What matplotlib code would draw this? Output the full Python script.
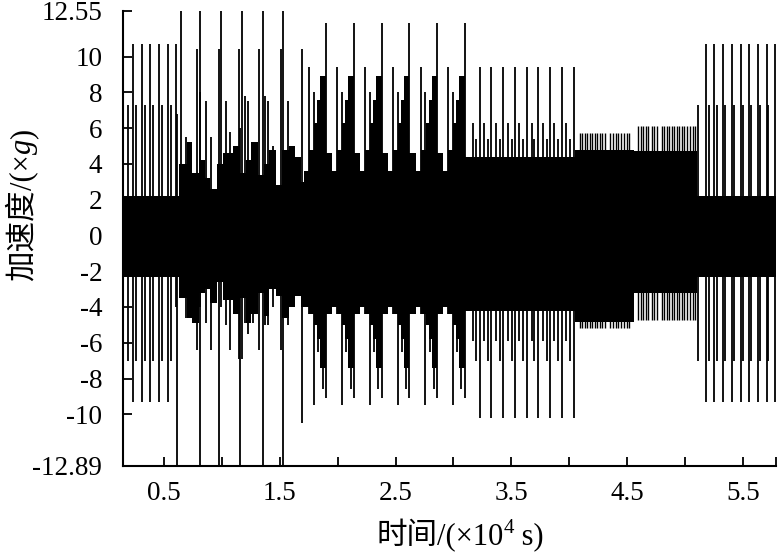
import numpy as np
import matplotlib
matplotlib.use("Agg")
from matplotlib import pyplot as plt

plt.rcParams['font.family'] = ['Liberation Serif', 'Noto Sans CJK SC']
plt.rcParams['axes.unicode_minus'] = False

# dense background band (step, value holds until next x), x in 1e4 s, acc in g
band_x = [0.146, 0.630, 0.700, 0.742, 0.800, 0.850, 0.900, 0.960, 1.010, 1.100,
          1.160, 1.210, 1.250, 1.310, 1.360, 1.410, 1.470, 1.520, 1.580, 1.630, 1.680,
          1.712, 1.755, 1.798, 1.824, 1.850, 1.899,
          1.954, 1.997, 2.040, 2.066, 2.092, 2.141,
          2.193, 2.236, 2.279, 2.305, 2.331, 2.380,
          2.437, 2.480, 2.523, 2.549, 2.575, 2.618,
          2.674, 2.717, 2.760, 2.786, 2.812, 2.855,
          2.912, 2.955, 2.998, 3.024, 3.050, 3.099,
          4.050, 4.560, 5.100, 5.785]
band_hi = [2.2, 4.0, 5.2, 3.5, 4.2, 3.2, 2.6, 4.0, 4.6, 5.0,
           3.5, 4.2, 5.2, 3.4, 4.0, 4.8, 2.8, 4.8, 5.0, 4.4, 3.0,
           3.6, 4.8, 6.3, 7.6, 8.9, 4.6,
           3.6, 4.8, 6.3, 7.6, 8.9, 4.6,
           3.6, 4.8, 6.3, 7.6, 8.9, 4.6,
           3.6, 4.8, 6.3, 7.6, 8.9, 4.6,
           3.6, 4.8, 6.3, 7.6, 8.9, 4.6,
           3.6, 4.8, 6.3, 7.6, 8.9, 4.4,
           4.8, 4.7, 2.2, 2.2]
band_lo = [-2.3, -3.5, -4.6, -4.9, -3.2, -3.0, -3.8, -2.6, -3.6, -4.4,
           -3.5, -4.9, -4.4, -3.2, -4.5, -3.0, -3.4, -4.6, -4.0, -3.4, -4.0,
           -4.0, -4.4, -5.0, -5.8, -7.4, -4.4,
           -4.0, -4.4, -5.0, -5.8, -7.4, -4.4,
           -4.0, -4.4, -5.0, -5.8, -7.4, -4.4,
           -4.0, -4.4, -5.0, -5.8, -7.4, -4.4,
           -4.0, -4.4, -5.0, -5.8, -7.4, -4.4,
           -4.0, -4.4, -5.0, -5.8, -7.4, -4.2,
           -4.85, -3.2, -2.3, -2.3]

# single load cycles standing out of the band
spike_x = [0.185, 0.232, 0.258, 0.314, 0.336, 0.375, 0.405, 0.457, 0.483, 0.535,
           0.561, 0.604, 0.615, 0.643, 0.690, 0.788, 0.811, 0.815, 0.863, 0.910,
           0.979, 0.992, 1.035, 1.070, 1.152, 1.156, 1.178, 1.200, 1.228, 1.269,
           1.323, 1.352, 1.372, 1.401, 1.441, 1.510, 1.530, 1.573, 1.623, 1.689,
           1.755, 1.796, 1.833, 1.869, 1.899,
           1.997, 2.038, 2.075, 2.111, 2.141,
           2.236, 2.277, 2.314, 2.350, 2.380,
           2.480, 2.521, 2.558, 2.594, 2.618,
           2.717, 2.758, 2.795, 2.831, 2.855,
           2.955, 2.996, 3.033, 3.069, 3.099,
           3.229, 3.328, 3.427, 3.531, 3.632, 3.732, 3.833, 3.934, 4.040,
           3.166, 3.266, 3.367, 3.468, 3.568, 3.675, 3.770, 3.868, 3.972,
           3.195, 3.299, 3.402, 3.503, 3.603, 3.696, 3.805, 3.905, 4.006,
           5.180, 5.253, 5.327, 5.404, 5.482, 5.554, 5.627, 5.710, 5.776,
           5.115, 5.206, 5.272, 5.348, 5.421, 5.499, 5.574, 5.650, 5.719]
spike_hi = [7.3, 10.7, 7.3, 10.7, 7.3, 10.7, 7.3, 10.7, 7.3, 10.7,
            7.3, 10.7, 6.8, 12.55, 5.5, 10.4, 8.0, 12.55, 7.5, 5.5,
            10.4, 12.55, 7.5, 5.8, 10.4, 6.0, 12.55, 7.8, 7.5, 5.0,
            10.4, 12.55, 7.8, 7.5, 5.0, 10.4, 12.55, 7.5, 5.0, 10.4,
            9.4, 8.0, 6.5, 8.9, 11.9,
            9.4, 8.0, 6.5, 8.9, 11.9,
            9.4, 8.0, 6.5, 8.9, 11.9,
            9.4, 8.0, 6.5, 8.9, 11.9,
            9.4, 8.0, 6.5, 8.9, 11.9,
            9.4, 8.0, 6.5, 8.9, 11.9,
            9.4, 9.4, 9.4, 9.4, 9.4, 9.4, 9.4, 9.4, 9.4,
            6.3, 6.3, 6.3, 6.3, 6.3, 6.3, 6.3, 6.3, 6.3,
            5.4, 5.4, 5.4, 5.4, 5.4, 5.4, 5.4, 5.4, 5.4,
            10.7, 10.7, 10.7, 10.7, 10.7, 10.7, 10.7, 10.7, 10.7,
            7.3, 7.3, 7.3, 7.3, 7.3, 7.3, 7.3, 7.3, 7.3]
spike_lo = [-7.0, -9.3, -7.0, -9.3, -7.0, -9.3, -7.0, -9.3, -7.0, -9.3,
            -7.0, -4.0, -12.89, -3.5, -4.6, -6.4, -12.89, -4.0, -4.9, -6.4,
            -12.89, -4.0, -5.0, -6.4, -6.9, -12.89, -6.9, -4.9, -5.5, -4.9,
            -6.4, -12.89, -5.0, -5.0, -4.0, -6.4, -12.89, -5.0, -4.0, -10.5,
            -4.4, -9.5, -6.5, -8.6, -9.1,
            -4.4, -9.5, -6.5, -8.6, -9.1,
            -4.4, -9.5, -6.5, -8.6, -9.1,
            -4.4, -9.5, -6.5, -8.6, -9.1,
            -4.4, -9.5, -6.5, -8.6, -9.1,
            -4.4, -9.5, -6.5, -8.6, -9.1,
            -10.2, -10.2, -10.2, -10.2, -10.2, -10.2, -10.2, -10.2, -10.2,
            -5.9, -5.9, -5.9, -5.9, -5.9, -5.9, -5.9, -5.9, -5.9,
            -7.0, -7.0, -7.0, -7.0, -7.0, -7.0, -7.0, -7.0, -7.0,
            -9.3, -9.3, -9.3, -9.3, -9.3, -9.3, -9.3, -9.3, -9.3,
            -7.0, -7.0, -7.0, -7.0, -7.0, -7.0, -7.0, -7.0, -7.0]

# thin "comb" cycles of the two constant-amplitude blocks
comb_x = [4.091, 4.114, 4.134, 4.157, 4.180, 4.200, 4.223, 4.243, 4.266, 4.286,
          4.309, 4.352, 4.381, 4.401, 4.424, 4.444, 4.473, 4.496, 4.516,
          4.596, 4.619, 4.639, 4.662, 4.682, 4.711, 4.734, 4.755, 4.798, 4.820,
          4.841, 4.864, 4.884, 4.907, 4.928, 4.950, 4.971, 4.993, 5.014, 5.042,
          5.066, 5.085]
comb_hi = [5.7] * 19 + [6.1] * 22
comb_lo = [-5.2] * 19 + [-4.75] * 22

ytick_vals = [-12.89, -10, -8, -6, -4, -2, 0, 2, 4, 6, 8, 10, 12.55]
ytick_text = ['-12.89', '-10', '-8', '-6', '-4', '-2', '0', '2', '4', '6', '8', '10', '12.55']
xtick_vals = [0.5, 1.5, 2.5, 3.5, 4.5, 5.5]
xtick_text = ['0.5', '1.5', '2.5', '3.5', '4.5', '5.5']
xminor_vals = [1.0, 2.0, 3.0, 4.0, 5.0, 5.785]

CJK = 'Noto Sans CJK SC'


fig = plt.figure(figsize=(7.81, 5.55), dpi=100)
ax = fig.add_axes([0.1575, 0.1604, 0.836, 0.8198])

ax.fill_between(band_x, band_hi, band_lo, step='post', color='black', linewidth=0)
ax.vlines(spike_x, spike_lo, spike_hi, colors='black', linewidth=1.3)
ax.vlines(comb_x, comb_lo, comb_hi, colors='black', linewidth=1.0)

ax.set_xlim(0.146, 5.785)
ax.set_ylim(-12.89, 12.55)

ax.spines['top'].set_visible(False)
ax.spines['right'].set_visible(False)
ax.spines['left'].set_linewidth(1.5)
ax.spines['bottom'].set_linewidth(1.5)

ax.set_yticks(ytick_vals)
ax.set_yticklabels(ytick_text)
ax.set_xticks(xtick_vals)
ax.set_xticklabels(xtick_text)
ax.set_xticks(xminor_vals, minor=True)
ax.tick_params(axis='both', which='both', direction='in', length=6.5, width=1.3,
               labelsize=19.5)
ax.tick_params(axis='y', pad=15)
ax.tick_params(axis='x', pad=11)


def put_label(pieces, cx, cy, vertical=False, size=22):
    # lay text pieces along one baseline, centred on (cx, cy) in pixels
    r = fig.canvas.get_renderer()
    W, H = fig.get_size_inches() * fig.dpi
    arts, widths = [], []
    for s, kw, dy in pieces:
        kw = dict(kw)
        kw.setdefault('fontsize', size)
        t = fig.text(0, 0, s, ha='left', va='baseline', **kw)
        widths.append(t.get_window_extent(r).width)
        arts.append((t, dy))
    pos = -sum(widths) / 2
    for (t, dy), w in zip(arts, widths):
        if vertical:
            t.set_rotation(90)
            t.set_rotation_mode('anchor')
            t.set_position(((cx - dy) / W, (cy + pos) / H))
        else:
            t.set_position(((cx + pos) / W, (cy + dy) / H))
        pos += w


put_label([('时间', dict(family=CJK), 0),
           ('/(×10', {}, 0),
           ('4', dict(fontsize=15), 11),
           (' s)', {}, 0)], 460, 11)
put_label([('加速度', dict(family=CJK), 0),
           ('/(×', {}, 0),
           ('g', dict(style='italic'), 0),
           (')', {}, 0)], 31, 350, vertical=True)

fig.savefig('out.png', dpi=100)
